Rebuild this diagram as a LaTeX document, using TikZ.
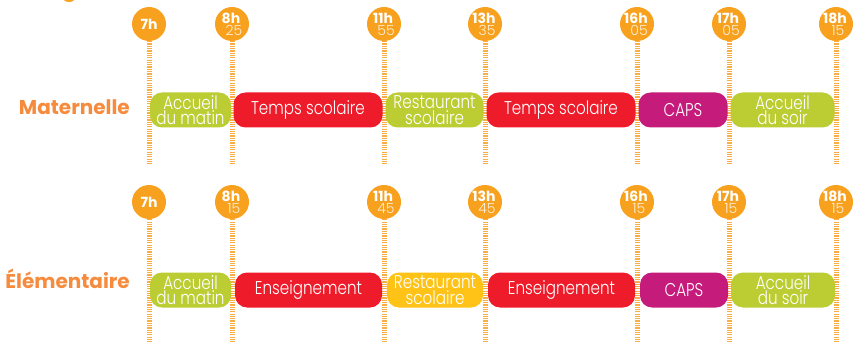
\documentclass[tikz,border=0pt]{standalone}
\usepackage{fontspec}
\setmainfont{Poppins}
\newfontfamily\thinf[FakeStretch=0.82]{Poppins Light}
\newfontfamily\minf{Poppins Light}
\definecolor{corange}{HTML}{F7A11E}
\definecolor{clabel}{HTML}{F68B3D}
\definecolor{cline}{HTML}{F9AE45}
\definecolor{cgreen}{HTML}{BCCD33}
\definecolor{cred}{HTML}{EE1C2B}
\definecolor{cmag}{HTML}{C51B7B}
\definecolor{cyel}{HTML}{FEC316}
\definecolor{cmin}{HTML}{FDEFD6}
\begin{document}
\begin{tikzpicture}[x=1pt,y=-1pt,
  tcirc/.style={circle,fill=corange,minimum size=34pt,inner sep=0pt},
  tline/.style={draw=cline,line width=5pt,dash pattern=on 1.2pt off 1.1pt},
  hr/.style={text=white,inner sep=0pt,font=\bfseries\fontsize{14}{14}\selectfont},
  mn/.style={text=cmin,inner sep=0pt,font=\minf\fontsize{14}{14}\selectfont},
  bar/.style={rounded corners=12pt,minimum height=35pt,inner sep=0pt,text=white,
    font=\thinf\fontsize{18.5}{15.5}\selectfont,align=center},
  rowlabel/.style={text=clabel,inner sep=0pt,font=\bfseries\fontsize{20}{20}\selectfont}]
\useasboundingbox (0,0) rectangle (856,342);
% fragment at top left
\fill[corange] (69,-4) ellipse (7pt and 6pt);
% row labels
\node[rowlabel,anchor=base east] (lm) at (130,114) {Maternelle};
\node[rowlabel,anchor=base east] (le) at (130,288) {Élémentaire};
% circles and lines
\foreach \n/\x in {1/149,2/232,3/384,4/485,5/637,6/729,7/836}{
  \node[tcirc] (a\n) at (\x,24) {};
  \coordinate (ae\n) at (\x,165);
  \draw[tline] (a\n.south) -- (ae\n);
  \node[tcirc] (b\n) at (\x,202) {};
  \coordinate (be\n) at (\x,342);
  \draw[tline] (b\n.south) -- (be\n);
}
% times row 1
\node[hr] (a1h) at (a1.center) {7h};
\foreach \n/\h/\m in {2/8h/25,3/11h/55,4/13h/35,5/16h/05,6/17h/05,7/18h/15}{
  \node[hr] (a\n h) at ([xshift=-1pt,yshift=6pt]a\n.center) {\h};
  \node[mn] (a\n m) at ([xshift=2pt,yshift=-6pt]a\n.center) {\m};
}
% times row 2
\node[hr] (b1h) at (b1.center) {7h};
\foreach \n/\h/\m in {2/8h/15,3/11h/45,4/13h/45,5/16h/15,6/17h/15,7/18h/15}{
  \node[hr] (b\n h) at ([xshift=-1pt,yshift=6pt]b\n.center) {\h};
  \node[mn] (b\n m) at ([xshift=2pt,yshift=-6pt]b\n.center) {\m};
}
% bars row 1
\node[bar,fill=cgreen,minimum width=81pt] (m1) at (190.5,110) {Accueil\\du matin};
\node[bar,fill=cred,minimum width=149pt] (m2) at (308,110) {Temps scolaire};
\node[bar,fill=cgreen,minimum width=98pt] (m3) at (434.5,110) {Restaurant\\scolaire};
\node[bar,fill=cred,minimum width=149pt] (m4) at (561,110) {Temps scolaire};
\node[bar,fill=cmag,minimum width=89pt] (m5) at (683,110) {CAPS};
\node[bar,fill=cgreen,minimum width=104pt] (m6) at (782.5,110) {Accueil\\du soir};
% bars row 2
\node[bar,fill=cgreen,minimum width=81pt] (e1) at (190.5,290) {Accueil\\du matin};
\node[bar,fill=cred,minimum width=147pt] (e2) at (308.5,290) {Enseignement};
\node[bar,fill=cyel,minimum width=96pt] (e3) at (435,290) {Restaurant\\scolaire};
\node[bar,fill=cred,minimum width=147pt] (e4) at (561.5,290) {Enseignement};
\node[bar,fill=cmag,minimum width=88pt] (e5) at (684,290) {CAPS};
\node[bar,fill=cgreen,minimum width=104pt] (e6) at (783,290) {Accueil\\du soir};
\end{tikzpicture}
\end{document}
